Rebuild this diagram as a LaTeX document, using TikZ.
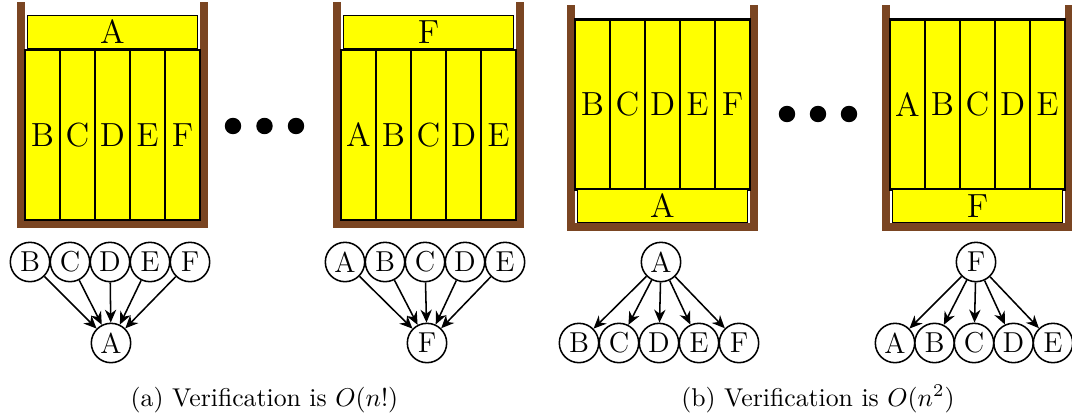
\documentclass[tikz,border=0pt]{standalone}
\usetikzlibrary{arrows.meta}
\definecolor{wallbrown}{RGB}{122,69,34}
\definecolor{bookyellow}{RGB}{255,255,0}
\newcommand\booksize{\fontsize{13}{15}\selectfont}
\newcommand\vtxsize{\fontsize{11.2}{13}\selectfont}
\begin{document}
\begin{tikzpicture}[x=0.3887pt,y=-0.3887pt,
  wall/.style={fill=wallbrown},
  upbook/.style={draw=black,line width=1pt,fill=bookyellow,inner sep=0pt,minimum width=13.6pt,minimum height=66.1pt,font=\booksize},
  flatbook/.style={draw=black,line width=0.5pt,fill=bookyellow,inner sep=0pt,minimum width=66.1pt,minimum height=13pt,font=\booksize},
  dotnode/.style={circle,fill=black,inner sep=0pt,minimum size=6.4pt},
  vtx/.style={circle,draw=black,line width=0.6pt,inner sep=0pt,minimum size=15.3pt,font=\vtxsize},
  arc/.style={line width=0.6pt,-{Stealth[length=5pt,width=4.4pt,inset=1.6pt]}},
  captext/.style={inner sep=0pt,font=\normalsize}]
\useasboundingbox (0,0) rectangle (1072,419);

% ---------- container 1 ----------
\fill[wall] (17,1.5) rectangle (25,228);
\fill[wall] (200,1.5) rectangle (208,228);
\fill[wall] (17,220) rectangle (208,228);
\foreach \l [count=\i from 0] in {B,C,D,E,F}
  \node[upbook] (c1\l) at ({42.5+35*\i},135) {\l};
\node[flatbook] (c1A) at (112.5,32) {A};

% ---------- container 2 ----------
\fill[wall] (333,1.5) rectangle (341,228);
\fill[wall] (516,1.5) rectangle (524,228);
\fill[wall] (333,220) rectangle (524,228);
\foreach \l [count=\i from 0] in {A,B,C,D,E}
  \node[upbook] (c2\l) at ({358.5+35*\i},135) {\l};
\node[flatbook] (c2F) at (428.5,32) {F};

% ---------- container 3 ----------
\fill[wall] (567,4.5) rectangle (575,230.5);
\fill[wall] (750,4.5) rectangle (758,230.5);
\fill[wall] (567,222.5) rectangle (758,230.5);
\foreach \l [count=\i from 0] in {B,C,D,E,F}
  \node[upbook] (c3\l) at ({592.5+35*\i},104.5) {\l};
\node[flatbook] (c3A) at (662.5,206) {A};

% ---------- container 4 ----------
\fill[wall] (882,4.5) rectangle (890,230.5);
\fill[wall] (1065,4.5) rectangle (1073,230.5);
\fill[wall] (882,222.5) rectangle (1073,230.5);
\foreach \l [count=\i from 0] in {A,B,C,D,E}
  \node[upbook] (c4\l) at ({907.5+35*\i},104.5) {\l};
\node[flatbook] (c4F) at (977.5,206) {F};

% ---------- dots ----------
\node[dotnode] (d1) at (233,126) {};
\node[dotnode] (d2) at (264.5,126) {};
\node[dotnode] (d3) at (296,126) {};
\node[dotnode] (d4) at (787,114) {};
\node[dotnode] (d5) at (818,114) {};
\node[dotnode] (d6) at (849,114) {};

% ---------- graph 1 ----------
\foreach \l [count=\i from 0] in {B,C,D,E,F}
  \node[vtx] (g1\l) at ({30+40*\i},262) {\l};
\node[vtx] (g1A) at (111,343) {A};
\foreach \l in {B,C,D,E,F}
  \draw[arc] (g1\l) -- (g1A);

% ---------- graph 2 ----------
\foreach \l [count=\i from 0] in {A,B,C,D,E}
  \node[vtx] (g2\l) at ({345+40*\i},262) {\l};
\node[vtx] (g2F) at (427,343) {F};
\foreach \l in {A,B,C,D,E}
  \draw[arc] (g2\l) -- (g2F);

% ---------- graph 3 ----------
\node[vtx] (g3A) at (661,262) {A};
\foreach \l [count=\i from 0] in {B,C,D,E,F}
  \node[vtx] (g3\l) at ({579+40*\i},343) {\l};
\foreach \l in {B,C,D,E,F}
  \draw[arc] (g3A) -- (g3\l);

% ---------- graph 4 ----------
\node[vtx] (g4F) at (976,262) {F};
\foreach \l [count=\i from 0] in {A,B,C,D,E}
  \node[vtx] (g4\l) at ({895+39.5*\i},343) {\l};
\foreach \l in {A,B,C,D,E}
  \draw[arc] (g4F) -- (g4\l);

% ---------- captions ----------
\node[captext,anchor=base] (capa) at (264.5,406) {(a) Verification is $O(n!)$};
\node[captext,anchor=base] (capb) at (818,406) {(b) Verification is $O(n^2)$};
\end{tikzpicture}
\end{document}
